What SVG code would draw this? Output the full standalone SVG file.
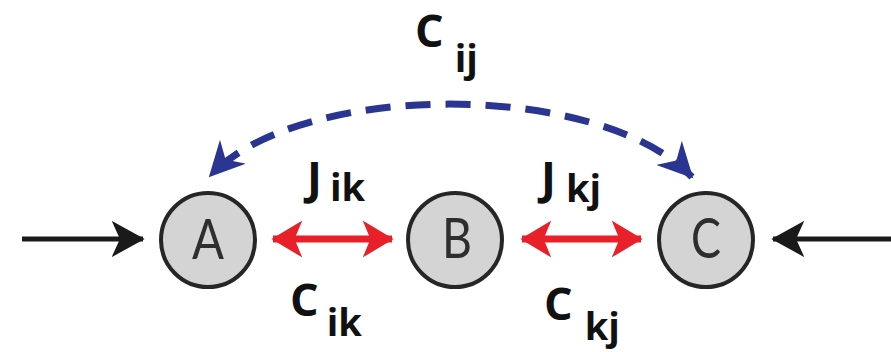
<svg xmlns="http://www.w3.org/2000/svg" width="891" height="352" viewBox="0 0 891 352">
<style>
.node{fill:#d4d4d4;stroke:#262626;stroke-width:4}
.nl{font-family:Lato,"Open Sans","Liberation Sans",sans-serif;font-size:56px;fill:#2e2e2e;text-anchor:middle}
.lb{font-family:"Open Sans","Liberation Sans",sans-serif;font-weight:bold;fill:#111}
.big{font-size:45px}
.sub{font-size:38px}
.red{stroke:#e8202a;stroke-width:7;fill:none}
.blk{stroke:#1a1a1a;stroke-width:5;fill:none}
.blu{stroke:#2a3592;stroke-width:7;fill:none;stroke-dasharray:25 15;stroke-dashoffset:-12}
</style>
<defs>
<marker id="rh" viewBox="0 0 10 12" refX="9.5" refY="6" markerWidth="4.4" markerHeight="5.3" markerUnits="strokeWidth" orient="auto-start-reverse"><path d="M0,0L10,6L0,12L2.5,6Z" fill="#e8202a"/></marker>
<marker id="bh" viewBox="0 0 10 11" refX="9.5" refY="5.5" markerWidth="6.6" markerHeight="7.3" markerUnits="strokeWidth" orient="auto"><path d="M0,0L10,5.5L0,11L2.5,5.5Z" fill="#1a1a1a"/></marker>
<marker id="uh" viewBox="0 0 10 10" refX="9.5" refY="5" markerWidth="5" markerHeight="5" markerUnits="strokeWidth" orient="auto-start-reverse"><path d="M0,0L10,5L0,10L3,5Z" fill="#2a3592"/></marker>
</defs>
<g id="connectors">
<line class="blk" x1="22" y1="239" x2="143" y2="239" marker-end="url(#bh)"/>
<line class="blk" x1="891" y1="239" x2="773" y2="239" marker-end="url(#bh)"/>
<line class="red" x1="273" y1="239" x2="392" y2="239" marker-start="url(#rh)" marker-end="url(#rh)"/>
<line class="red" x1="522" y1="239" x2="641" y2="239" marker-start="url(#rh)" marker-end="url(#rh)"/>
<path class="blu" d="M210,176 C300,80 600,80 692,177" marker-start="url(#uh)" marker-end="url(#uh)"/>
</g>
<g id="A"><circle class="node" cx="208" cy="240" r="47"/><text class="nl" x="208" y="259" textLength="32" lengthAdjust="spacingAndGlyphs">A</text></g>
<g id="B"><circle class="node" cx="455" cy="240" r="47"/><text class="nl" x="457" y="258" textLength="30" lengthAdjust="spacingAndGlyphs">B</text></g>
<g id="C"><circle class="node" cx="706" cy="240" r="47"/><text class="nl" x="706" y="258" textLength="30" lengthAdjust="spacingAndGlyphs">C</text></g>
<g id="labels">
<text class="lb" x="415" y="47"><tspan class="big">C</tspan><tspan class="sub" dx="11" dy="25">ij</tspan></text>
<text class="lb" x="307" y="194"><tspan class="big">J</tspan><tspan class="sub" dx="8" dy="7">ik</tspan></text>
<text class="lb" x="290" y="316"><tspan class="big">C</tspan><tspan class="sub" dx="8" dy="20">ik</tspan></text>
<text class="lb" x="541" y="194"><tspan class="big">J</tspan><tspan class="sub" dx="10" dy="8">kj</tspan></text>
<text class="lb" x="544" y="320"><tspan class="big">C</tspan><tspan class="sub" dx="12" dy="20">kj</tspan></text>
</g>
</svg>
